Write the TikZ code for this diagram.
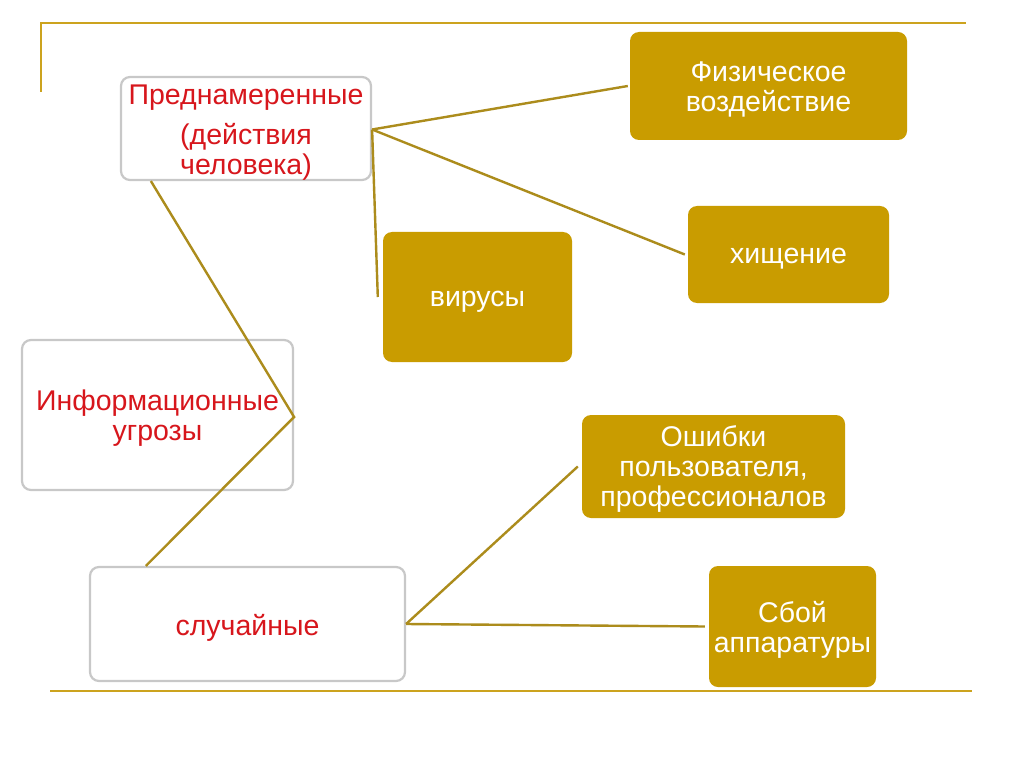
\documentclass[tikz,border=0pt]{standalone}
\usepackage{fontspec}
\setmainfont{Liberation Sans}
\definecolor{goldfill}{RGB}{201,156,0}
\definecolor{goldline}{RGB}{172,140,28}
\definecolor{frameline}{RGB}{204,163,30}
\definecolor{graybd}{RGB}{200,200,200}
\definecolor{redtxt}{RGB}{215,22,28}
\tikzset{
  whitebox/.style={draw=graybd, line width=2.2pt, fill=white, rounded corners=9pt, inner sep=0pt},
  goldbox/.style={fill=goldfill, rounded corners=9pt, inner sep=0pt},
  redlabel/.style={text=redtxt, align=center, font=\fontsize{28.5}{30}\selectfont, inner sep=0pt},
  whitelabel/.style={text=white, align=center, font=\fontsize{28.5}{30}\selectfont, inner sep=0pt},
  link/.style={draw=goldline, line width=2.4pt},
  frame/.style={draw=frameline, line width=2pt}
}
\begin{document}
\begin{tikzpicture}[x=1pt,y=-1pt]
\useasboundingbox (0,0) rectangle (1024,767);
\fill[white] (0,0) rectangle (1024,767);
% frame lines
\coordinate (ftl) at (41,23);
\coordinate (ftr) at (966,23);
\coordinate (fbl) at (41,92);
\coordinate (bl) at (50,691);
\coordinate (br) at (972,691);
\draw[frame] (fbl) -- (ftl) -- (ftr);
\draw[frame] (bl) -- (br);
% boxes
\node[whitebox, minimum width=250pt, minimum height=103pt] (pred) at (246,128.5) {};
\node[whitebox, minimum width=271pt, minimum height=150pt] (info) at (157.5,415) {};
\node[whitebox, minimum width=315pt, minimum height=114pt] (sluch) at (247.5,624) {};
\node[goldbox, minimum width=277pt, minimum height=108pt] (fiz) at (768.5,86) {};
\node[goldbox, minimum width=201pt, minimum height=97pt] (hish) at (788.5,254.5) {};
\node[goldbox, minimum width=189pt, minimum height=130pt] (virus) at (477.5,297) {};
\node[goldbox, minimum width=263pt, minimum height=103pt] (osh) at (713.5,466.5) {};
\node[goldbox, minimum width=167pt, minimum height=121pt] (sboy) at (792.5,626.5) {};
% texts
\node[redlabel] (predt) at ([yshift=-4pt]pred.center) {Преднамеренные\\[10pt](действия\\человека)};
\node[redlabel] (infot) at ([yshift=-3pt]info.center) {Информационные\\угрозы};
\node[redlabel] (sluycht) at ([yshift=-4pt]sluch.center) {случайные};
\node[whitelabel] (fizt) at ([yshift=-3pt]fiz.center) {Физическое\\воздействие};
\node[whitelabel] (hisht) at ([yshift=-4pt]hish.center) {хищение};
\node[whitelabel] (virust) at ([yshift=-5pt]virus.center) {вирусы};
\node[whitelabel] (osht) at ([yshift=-3pt]osh.center) {Ошибки\\пользователя,\\профессионалов};
\node[whitelabel] (sboyt) at ([yshift=-3pt]sboy.center) {Сбой\\аппаратуры};
% connectors
\coordinate (pe) at ([yshift=-1pt]pred.east);
\draw[link] (pe) -- ([xshift=-2pt]fiz.west);
\draw[link] (pe) -- ([xshift=-3pt]hish.west);
\draw[link] (pe) -- ([xshift=-5pt]virus.west);
\draw[link] ([xshift=31pt]pred.south west) -- ([yshift=-2pt]info.east) -- ([xshift=57pt]sluch.north west);
\draw[link] (sluch.east) -- ([xshift=-4pt]osh.west);
\draw[link] (sluch.east) -- ([xshift=-4pt]sboy.west);
\end{tikzpicture}
\end{document}
